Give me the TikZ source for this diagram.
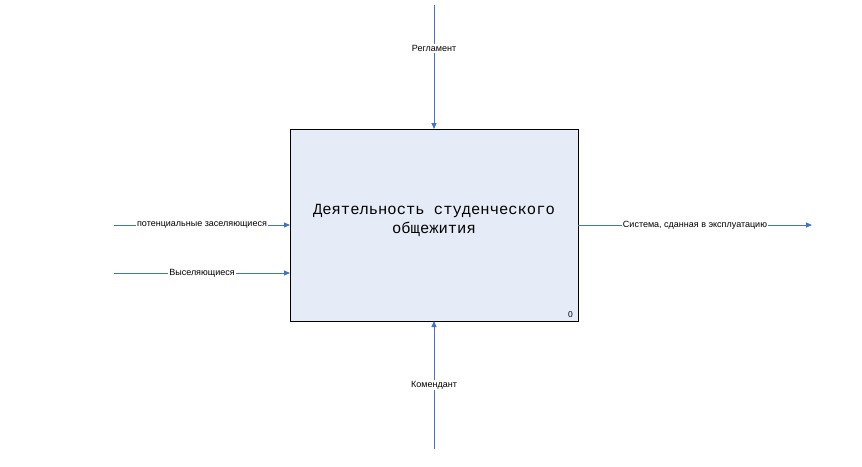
\documentclass[tikz,border=0pt]{standalone}
\usepackage{fontspec}
\setmainfont{Liberation Sans}
\newfontfamily\boxfont{Liberation Mono}
\usetikzlibrary{arrows.meta}
\definecolor{arrowblue}{RGB}{68,114,196}
\definecolor{boxfill}{RGB}{230,236,247}
\tikzset{
  flow/.style={draw=arrowblue, line width=0.9pt, -{Triangle[length=6pt,width=5pt]}},
  lbl/.style={fill=white, inner sep=1pt, font=\fontsize{9}{10}\selectfont},
  fbox/.style={draw=black, line width=0.9pt, fill=boxfill, minimum width=288pt, minimum height=192pt, inner sep=0pt},
}
\begin{document}
\begin{tikzpicture}[x=1pt,y=-1pt]
\useasboundingbox (0,0) rectangle (862,466);
\node[fbox] (A0) at (434,225) {};
\node[font=\boxfont\fontsize{15.5}{19}\selectfont, align=center] (title) at (434,220) {Деятельность студенческого\\общежития};
\node[font=\fontsize{8.5}{9}\selectfont, anchor=south east, inner sep=1pt] (num) at (574,319) {0};
\coordinate (tin) at (434,5);
\coordinate (bin) at (434,449);
\coordinate (l1) at (114,225);
\coordinate (l2) at (114,273);
\coordinate (r1) at (812,225);
\coordinate (b1) at (434,321);
\coordinate (t1) at (434,129);
\coordinate (e1) at (290,225);
\coordinate (e2) at (290,273);
\coordinate (o1) at (578,225);
\draw[flow] (tin) -- node[lbl, pos=0.35] (regl) {Регламент} (t1);
\draw[flow] (bin) -- node[lbl, pos=0.5] (kom) {Комендант} (b1);
\draw[flow] (l1) -- node[lbl, pos=0.5] (pot) {потенциальные заселяющиеся} (e1);
\draw[flow] (l2) -- node[lbl, pos=0.5] (vys) {Выселяющиеся} (e2);
\draw[flow] (o1) -- node[lbl, pos=0.5] (sys) {Система, сданная в эксплуатацию} (r1);
\end{tikzpicture}
\end{document}
